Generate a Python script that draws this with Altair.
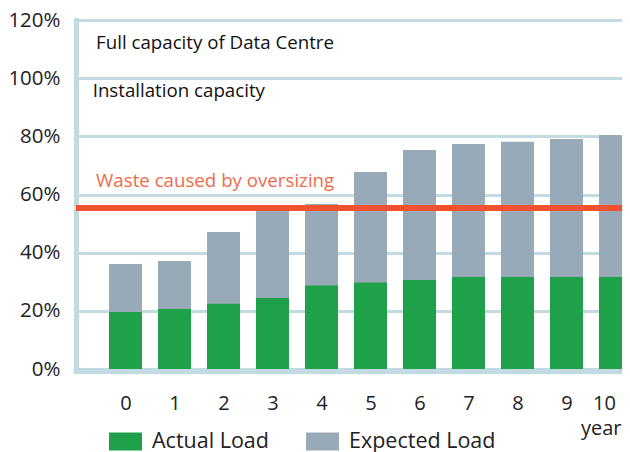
import altair as alt
import pandas as pd

years = list(range(11))
actual = [19.6, 20.6, 22.4, 24.4, 28.7, 29.7, 30.6, 31.6, 31.6, 31.6, 31.6]
expected = [36.1, 37.1, 47.1, 55.5, 56.7, 67.7, 75.3, 77.4, 78.1, 79.1, 80.5]
series = ["Actual Load", "Expected Load"]
colors = ["#1fa149", "#98aab7"]
y_ticks = [0, 20, 40, 60, 80, 100, 120]
x_ticks = years
waste_level = 55.4
notes = ["Full capacity of Data Centre", "Installation capacity"]
note_x = [-0.6, -0.67]
note_y = [112.0, 95.6]
waste_text = ["Waste caused by oversizing"]
waste_x = [-0.6]
waste_y = [64.6]

FONT = "Open Sans"
GRID = "#c2dae2"

rows = []
for yr, e in zip(years, expected):
    rows.append({"year": yr, "series": "Expected Load", "value": e, "ord": 0})
for yr, a in zip(years, actual):
    rows.append({"year": yr, "series": "Actual Load", "value": a, "ord": 1})
df = pd.DataFrame(rows)

xscale = alt.Scale(domain=[-1.0102, 10.133], nice=False, zero=False, padding=0)
yscale = alt.Scale(domain=[0, 120], nice=False, padding=0)

bars = alt.Chart(df).mark_bar(size=33).encode(
    x=alt.X("year:Q", scale=xscale, axis=alt.Axis(
        values=x_ticks, format="d", grid=False, ticks=False,
        domainColor=GRID, domainWidth=6, domainCap="square", offset=1.5,
        labelFontSize=20, labelColor="#222", labelPadding=39,
        labelBaseline="alphabetic", labelFont=FONT, labelFlush=10,
        title="year", titleX=545, titleY=64, titleAlign="right",
        titleBaseline="alphabetic", titleFontSize=20, titleFontWeight="normal",
        titleColor="#222", titleFont=FONT)),
    y=alt.Y("value:Q", stack=None, scale=yscale, axis=alt.Axis(
        values=y_ticks, labelExpr="datum.value + '%'", grid=True,
        gridColor=GRID, gridWidth=3, domainColor=GRID, domainWidth=5,
        domainCap="square", ticks=False, labelFontSize=20.5, labelColor="#222",
        labelPadding=16, labelFont=FONT, title=None)),
    color=alt.Color("series:N", scale=alt.Scale(domain=series, range=colors),
                    legend=alt.Legend(orient="none", legendX=33, legendY=405,
                                      direction="horizontal",
                                      symbolType="M-1,-0.545H1V0.545H-1Z",
                                      symbolSize=1089, symbolStrokeWidth=0,
                                      symbolOpacity=1, labelFontSize=21.5,
                                      labelOffset=10, columnPadding=37,
                                      labelBaseline="middle", labelColor="#222",
                                      labelFont=FONT, title=None, padding=0)),
    order=alt.Order("ord:Q"),
)

rule = alt.Chart(pd.DataFrame({"y": [waste_level]})).mark_rule(
    color="#f0522f", strokeWidth=6).encode(y=alt.Y("y:Q", scale=yscale))

notes_df = pd.DataFrame({"text": notes, "x": note_x, "y": note_y})
note_text = alt.Chart(notes_df).mark_text(
    align="left", baseline="middle", fontSize=18.7, font=FONT, color="#111").encode(
    x=alt.X("x:Q", scale=xscale), y=alt.Y("y:Q", scale=yscale), text="text:N")

waste_df = pd.DataFrame({"text": waste_text, "x": waste_x, "y": waste_y})
waste_label = alt.Chart(waste_df).mark_text(
    align="left", baseline="middle", fontSize=18.7, font=FONT, color="#f26a4b").encode(
    x=alt.X("x:Q", scale=xscale), y=alt.Y("y:Q", scale=yscale), text="text:N")

chart = alt.layer(bars, rule, note_text, waste_label).properties(
    width=546, height=349,
    padding={"left": 68, "top": 12, "right": 0, "bottom": 83},
    autosize=alt.AutoSizeParams(type="none"),
).configure_view(stroke=None)

chart.save("out.html", embed_options={"renderer": "svg", "actions": False})
